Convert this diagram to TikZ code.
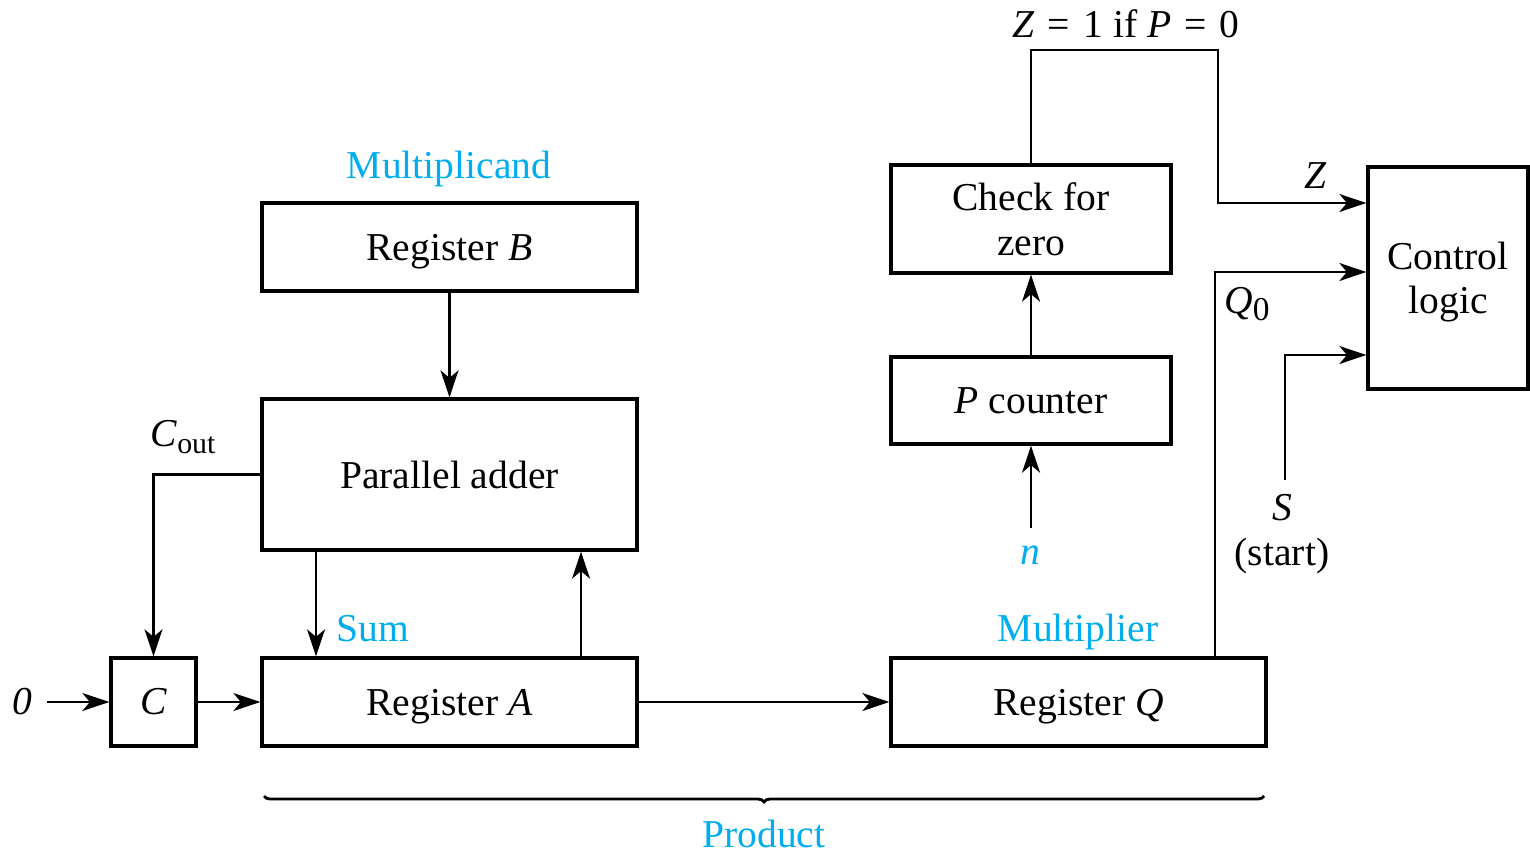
\documentclass[tikz,border=0pt]{standalone}
\usepackage{fontspec}
\setmainfont{Liberation Serif}
\usetikzlibrary{arrows.meta,decorations.pathreplacing}
\definecolor{lblue}{HTML}{00AEEF}
\begin{document}
\begin{tikzpicture}[x=0.02cm,y=-0.02cm,
  every node/.style={font=\fontsize{22.5}{27}\selectfont},
  blk/.style={draw,line width=1.9pt,inner sep=0pt,align=center},
  reg/.style={blk,minimum width=7.5cm,minimum height=1.76cm,text depth=0pt},
  wire/.style={line width=1.25pt},
  arr/.style={wire,-{Stealth[length=0.54cm,width=0.36cm,inset=0.15cm]}},
  lbl/.style={inner sep=0pt},
  blbl/.style={lbl,text=lblue}]
\useasboundingbox (0,0) rectangle (1530,855);
% blocks
\node[reg] (B) at (449.5,247) {Register \textit{B}};
\node[blk,minimum width=7.5cm,minimum height=3.02cm] (add) at (449.5,474.5) {Parallel adder};
\node[reg] (A) at (449.5,702) {Register \textit{A}};
\node[blk,minimum width=1.7cm,minimum height=1.76cm] (C) at (153.5,702) {\textit{C}};
\node[reg] (Q) at (1078.5,702) {Register \textit{Q}};
\node[blk,minimum width=5.6cm,minimum height=1.74cm] (P) at (1031,400.5) {\textit{P} counter};
\node[blk,minimum width=5.6cm,minimum height=2.16cm] (chk) at (1031,219) {Check for\\[-1.5pt]zero};
\node[blk,minimum width=3.2cm,minimum height=4.44cm,text depth=0pt] (ctl) at (1448,278) {Control\\[-2pt]logic};
% labels
\node[blbl] (mcand) at (449,169) {Multiplicand};
\node[blbl] (sum) at (373,629) {Sum};
\node[blbl] (mplier) at (1078,632) {Multiplier};
\node[blbl] (n) at (1030,555) {\textit{n}};
\node[blbl] (prod) at (764,834) {Product};
\node[lbl] (zero) at (22,702) {\textit{0}};
\node[lbl] (cout) at (183,437) {\textit{C}\raisebox{-0.35ex}{\fontsize{17}{17}\selectfont out}};
\node[lbl] (zeq) at (1126,24) {\textit{Z}\,\,=\,\,1 if \textit{P}\,\,=\,\,0};
\node[lbl] (zl) at (1316,176) {\textit{Z}};
\node[lbl] (q0) at (1247,304) {\textit{Q}\raisebox{-0.35ex}{\fontsize{19}{19}\selectfont 0}};
\node[lbl] (s) at (1282,508) {\textit{S}};
\node[lbl] (start) at (1282,556) {(start)};
% connectors
\coordinate (zin) at (47,702);
\coordinate (nin) at (1031,528);
\coordinate (sin) at (1285,480);
\draw[arr] (B.south) -- (add.north);
\draw[arr] (add.west) -| (C.north);
\draw[arr] (add.south -| 316,0) -- (A.north -| 316,0);
\draw[arr] (A.north -| 581,0) -- (add.south -| 581,0);
\draw[arr] (zin) -- (C.west);
\draw[arr] (C.east) -- (A.west);
\draw[arr] (A.east) -- (Q.west);
\draw[arr] (P.north) -- (chk.south);
\draw[arr] (nin) -- (P.south);
\draw[arr] (chk.north) -- (1031,50) -- (1218,50) |- (ctl.west |- 0,203);
\draw[arr] (Q.north -| 1215,0) |- (ctl.west |- 0,272);
\draw[arr] (sin) |- (ctl.west |- 0,355);
\draw[line width=1.6pt,decorate,decoration={brace,mirror,amplitude=0.12cm}] (264,796) -- (1264,796);
\end{tikzpicture}
\end{document}
